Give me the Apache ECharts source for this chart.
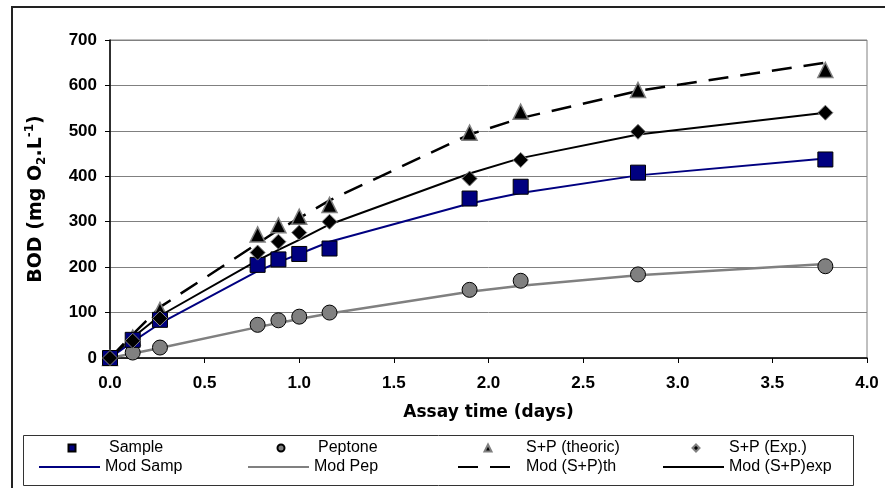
<!DOCTYPE html>
<html>
<head>
<meta charset="utf-8">
<script src="https://cdn.jsdelivr.net/npm/echarts@6/dist/echarts.min.js"></script>
<style>
html,body{margin:0;padding:0;background:#fff}
#main{width:885px;height:488px}
</style>
</head>
<body>
<div id="main"></div>
<script>
// assay days and measured / modelled BOD (mg O2/L)
var days = [0, 0.12, 0.264, 0.78, 0.89, 1.0, 1.16, 1.9, 2.17, 2.79, 3.78];
var sample = [0, 40, 84, 205, 217, 229, 241, 351, 377, 408, 437];
var peptone = [0, 12, 23, 73, 83, 91, 100, 150, 170, 184, 202];
var spTheoric = [0, 45, 106, 272, 292, 311, 337, 496, 542, 590, 634];
var spExp = [0, 38, 87, 232, 256, 276, 300, 395, 436, 498, 540];
var modSamp = [0, 36, 76, 191, 211, 229, 256, 340, 363, 402, 439];
var modPep = [0, 10, 22, 68, 77, 86, 98, 146, 159, 182, 207];
var modTh = [0, 52, 112, 252, 282, 308, 347, 492, 528, 588, 650];
var modExp = [0, 45, 93, 215, 238, 260, 294, 406, 440, 492, 540];

function pairs(ys){
    return days.map(function(d, i){ return [d, ys[i]]; });
}

var chart = echarts.init(document.getElementById('main'));

// marker legend: small symbol, text pushed right with padding
function markLegend(name, left, pad){
    return {
        data: [name], left: left, top: 439, padding: 0, itemGap: 0,
        itemWidth: 7, itemHeight: 7, selectedMode: false,
        textStyle: {fontFamily: 'Liberation Sans, Arial', fontSize: 16, color: '#000', lineHeight: 18, padding: [0, 0, 0, pad]}
    };
}
// line legend: hide the dot that line series put in the icon
function lineLegend(name, left, w){
    return {
        data: [name], left: left, top: 458, padding: 0, itemGap: 0,
        itemWidth: w, itemHeight: 7, selectedMode: false,
        itemStyle: {opacity: 0},
        textStyle: {fontFamily: 'Liberation Sans, Arial', fontSize: 16, color: '#000', lineHeight: 18}
    };
}

var option = {
    animation: false,
    backgroundColor: '#fff',
    grid: {left: 110, top: 40, width: 757, height: 318, show: true, borderColor: '#808080', borderWidth: 1},
    legend: [
        markLegend('Sample', 67.5, 28.5),
        markLegend('Peptone', 276.5, 28.5),
        markLegend('S+P (theoric)', 483.5, 29.5),
        markLegend('S+P (Exp.)', 691.5, 24.5),
        lineLegend('Mod Samp', 38, 61),
        lineLegend('Mod Pep', 247, 61),
        lineLegend('Mod (S+P)th', 457, 63),
        lineLegend('Mod (S+P)exp', 662, 61)
    ],
    xAxis: {
        type: 'value', min: 0, max: 4, interval: 0.5,
        axisLine: {lineStyle: {color: '#000', width: 1.5}},
        axisTick: {show: true, length: 5, lineStyle: {color: '#000'}},
        splitLine: {show: false},
        axisLabel: {
            margin: 17, color: '#000', fontFamily: 'Liberation Sans, Arial', fontWeight: 'bold', fontSize: 17,
            formatter: function(v){ return v.toFixed(1); }
        },
        name: 'Assay time (days)', nameLocation: 'middle', nameGap: 46,
        nameTextStyle: {fontFamily: 'DejaVu Sans', fontWeight: 'bold', fontSize: 17, color: '#000'}
    },
    yAxis: {
        type: 'value', min: 0, max: 700, interval: 100,
        axisLine: {show: true, lineStyle: {color: '#000', width: 1.5}},
        axisTick: {show: true, length: 5, lineStyle: {color: '#000'}},
        splitLine: {show: true, lineStyle: {color: '#808080', width: 1}},
        axisLabel: {margin: 13, color: '#000', fontFamily: 'Liberation Sans, Arial', fontWeight: 'bold', fontSize: 17},
        name: 'BOD (mg O{sub|2}.L{sup|-1})', nameLocation: 'middle', nameGap: 62,
        nameTextStyle: {
            fontFamily: 'DejaVu Sans', fontWeight: 'bold', fontSize: 19, color: '#000', lineHeight: 24,
            rich: {
                sub: {fontFamily: 'DejaVu Sans', fontWeight: 'bold', fontSize: 12, color: '#000', lineHeight: 24, verticalAlign: 'bottom'},
                sup: {fontFamily: 'DejaVu Sans', fontWeight: 'bold', fontSize: 12, color: '#000', lineHeight: 24, verticalAlign: 'top'}
            }
        }
    },
    graphic: [
        {type: 'rect', shape: {x: 12, y: 7, width: 900, height: 520}, style: {fill: 'none', stroke: '#222', lineWidth: 2}, silent: true},
        {type: 'rect', shape: {x: 23.5, y: 435.5, width: 830, height: 50}, style: {fill: 'none', stroke: '#333', lineWidth: 1}, silent: true}
    ],
    series: [
        {name: 'Mod Samp', type: 'line', data: pairs(modSamp), symbol: 'none', z: 2,
            lineStyle: {color: '#000080', width: 2}, itemStyle: {color: '#000080'}},
        {name: 'Mod Pep', type: 'line', data: pairs(modPep), symbol: 'none', z: 2,
            lineStyle: {color: '#808080', width: 2.5}, itemStyle: {color: '#808080'}},
        {name: 'Mod (S+P)th', type: 'line', data: pairs(modTh), symbol: 'none', z: 2,
            lineStyle: {color: '#000', width: 2.5, type: [20, 12]}, itemStyle: {color: '#000'}},
        {name: 'Mod (S+P)exp', type: 'line', data: pairs(modExp), symbol: 'none', z: 2,
            lineStyle: {color: '#000', width: 2}, itemStyle: {color: '#000'}},
        {name: 'S+P (theoric)', type: 'scatter', data: pairs(spTheoric), symbol: 'triangle', symbolSize: 15, clip: false, z: 3,
            itemStyle: {color: '#000', borderColor: '#808080', borderWidth: 1.5, opacity: 1}},
        {name: 'Peptone', type: 'scatter', data: pairs(peptone), symbol: 'circle', symbolSize: 15, clip: false, z: 3,
            itemStyle: {color: '#808080', borderColor: '#000', borderWidth: 1, opacity: 1}},
        {name: 'Sample', type: 'scatter', data: pairs(sample), symbol: 'rect', symbolSize: 15, clip: false, z: 3,
            itemStyle: {color: '#000080', borderColor: '#000', borderWidth: 1, opacity: 1}},
        {name: 'S+P (Exp.)', type: 'scatter', data: pairs(spExp), symbol: 'diamond', symbolSize: 15, clip: false, z: 3,
            itemStyle: {color: '#000', borderColor: '#808080', borderWidth: 1, opacity: 1}}
    ]
};

chart.setOption(option);
</script>
</body>
</html>
